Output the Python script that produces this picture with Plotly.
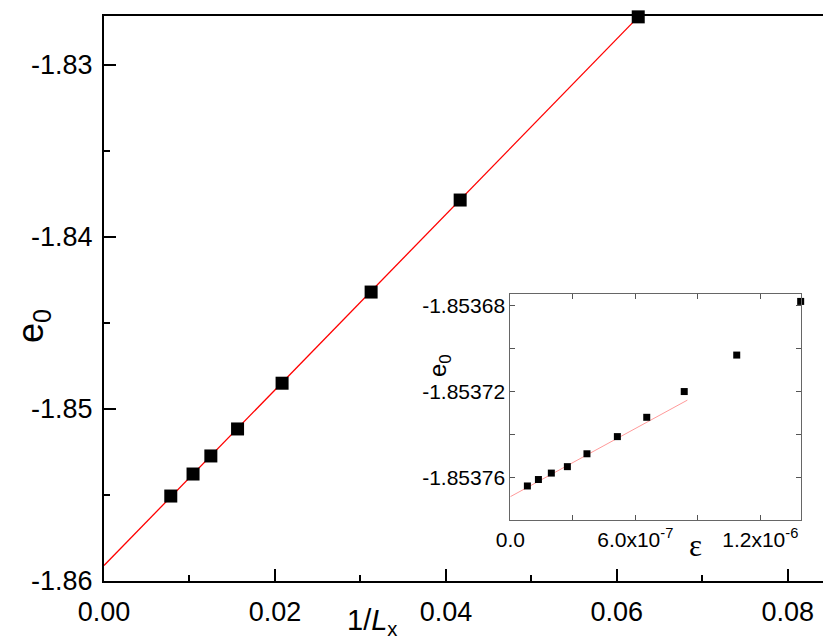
import plotly.graph_objects as go

# main panel: ground-state energy versus inverse width
inv_lx = [1 / 128, 1 / 96, 1 / 80, 1 / 64, 1 / 48, 1 / 32, 1 / 24, 1 / 16]
e0_main = [-1.85506, -1.85378, -1.85273, -1.85116, -1.8485, -1.8432, -1.83785, -1.8272]
fit_main_x = [0.0, 0.0625]
fit_main_y = [-1.8591, -1.8272]

# inset: energy versus epsilon
eps = [8.2e-8, 1.35e-7, 1.97e-7, 2.74e-7, 3.68e-7, 5.14e-7, 6.55e-7, 8.35e-7, 1.087e-6, 1.394e-6]
e0_inset = [-1.853764, -1.853761, -1.853758, -1.853755, -1.853749,
            -1.853741, -1.853732, -1.853720, -1.853703, -1.853678]
fit_inset_x = [0.0, 8.5e-7]
fit_inset_y = [-1.853769, -1.853724]

main_xticks = [0.0, 0.02, 0.04, 0.06, 0.08]
main_xticktext = ["0.00", "0.02", "0.04", "0.06", "0.08"]
main_yticks = [-1.86, -1.85, -1.84, -1.83]
main_yticktext = ["-1.86", "-1.85", "-1.84", "-1.83"]
inset_xticks = [0.0, 6.0e-7, 1.2e-6]
inset_xticktext = ["0.0", "6.0x10<sup>-7</sup>", "1.2x10<sup>-6</sup>"]
inset_yticks = [-1.85376, -1.85372, -1.85368]
inset_yticktext = ["-1.85376", "-1.85372", "-1.85368"]

FONT = "Liberation Sans, Arial, sans-serif"
W, H = 831, 640
L, R, T, B = 96, 11, 8, 67
PW, PH = W - L - R, H - T - B


def px(x, y):
    """pixel position -> paper coordinates of the main plot area"""
    return (x - L) / PW, (H - B - y) / PH


fig = go.Figure()
fig.add_scatter(x=fit_main_x, y=fit_main_y, mode="lines",
                line=dict(color="#ff0000", width=1.3), showlegend=False)
fig.add_scatter(x=inv_lx, y=e0_main, mode="markers",
                marker=dict(symbol="square", size=13, color="black"), showlegend=False,
                cliponaxis=False)
fig.add_scatter(x=fit_inset_x, y=fit_inset_y, mode="lines", xaxis="x2", yaxis="y2",
                line=dict(color="#ff9a9a", width=1), showlegend=False)
fig.add_scatter(x=eps, y=e0_inset, mode="markers", xaxis="x2", yaxis="y2",
                marker=dict(symbol="square", size=7, color="black"), showlegend=False,
                cliponaxis=False)

main_axis = dict(
    ticks="inside", ticklen=12, tickwidth=1.5, tickcolor="black",
    showline=True, linewidth=2, linecolor="black", mirror=True,
    showgrid=False, zeroline=False, automargin=False,
    tickfont=dict(size=27, family=FONT, color="black"),
)
inset_axis = dict(
    ticks="inside", ticklen=5, tickwidth=1, tickcolor="#555",
    showline=True, linewidth=1, linecolor="#666", mirror="allticks",
    showgrid=False, zeroline=False, automargin=False,
    tickfont=dict(size=21, family=FONT, color="black"),
)

x2d = ((502.3 - L) / PW, (793.3 - L) / PW)
y2d = ((H - B - 512.3) / PH, (H - B - 285.7) / PH)

fig.update_layout(
    width=W, height=H,
    margin=dict(l=L, r=R, t=T, b=B),
    plot_bgcolor="white", paper_bgcolor="white",
    font=dict(family=FONT, color="black"),
    xaxis=dict(main_axis, range=[0, 0.0847], tickvals=main_xticks, ticktext=main_xticktext,
               ticklabelstandoff=6,
               minor=dict(dtick=0.01, tick0=0, ticks="inside", ticklen=6, tickwidth=1.5,
                          tickcolor="black")),
    yaxis=dict(main_axis, range=[-1.86, -1.82715], tickvals=main_yticks, ticktext=main_yticktext,
               ticklabelstandoff=4,
               minor=dict(dtick=0.005, tick0=-1.86, ticks="inside", ticklen=6, tickwidth=1.5,
                          tickcolor="black")),
    xaxis2=dict(inset_axis, domain=list(x2d), anchor="y2", range=[0, 1.397e-6],
                tickvals=inset_xticks, ticktext=inset_xticktext,
                minor=dict(dtick=3e-7, tick0=0, ticks="inside", ticklen=5, tickwidth=1,
                           tickcolor="#555")),
    yaxis2=dict(inset_axis, domain=list(y2d), anchor="x2", range=[-1.85378, -1.8536744],
                tickvals=inset_yticks, ticktext=inset_yticktext,
                minor=dict(dtick=2e-5, tick0=-1.85376, ticks="inside", ticklen=5, tickwidth=1,
                           tickcolor="#555")),
)

titles = [
    ("e<sub>0</sub>", 25, 318, -90, 36, FONT),
    ("1/<i>L</i><sub>x</sub>", 364, 614, 0, 29, FONT),
    ("e<sub>0</sub>", 431, 358, -90, 24, FONT),
    ("ε", 687, 537, 0, 31, "Liberation Serif, Times New Roman, serif"),
]
for text, x, y, ang, size, fam in titles:
    ax, ay = px(x, y)
    fig.add_annotation(text=text, x=ax, y=ay, xref="paper", yref="paper",
                       xanchor="center", yanchor="middle",
                       showarrow=False, textangle=ang,
                       font=dict(size=size, family=fam, color="black"))

fig.write_html("out.html")
